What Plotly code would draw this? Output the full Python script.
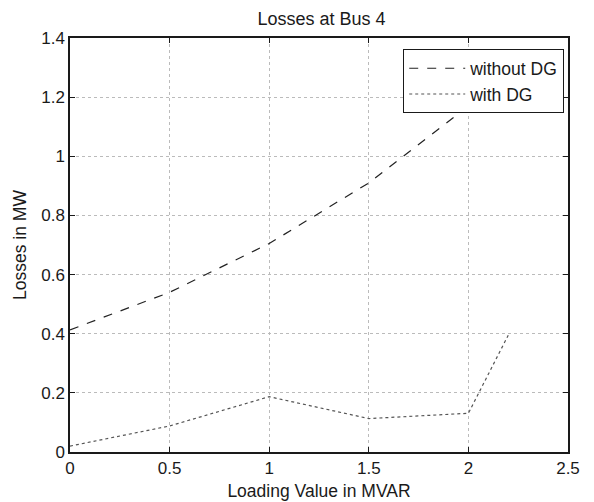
import plotly.graph_objects as go

loading = [0, 0.5, 1, 1.5, 2, 2.2]
without_dg = [0.413, 0.54, 0.705, 0.91, 1.17, 1.30]
with_dg = [0.02, 0.088, 0.187, 0.113, 0.131, 0.395]

x_ticks = [0, 0.5, 1, 1.5, 2, 2.5]
x_labels = ["0", "0.5", "1", "1.5", "2", "2.5"]
y_ticks = [0, 0.2, 0.4, 0.6, 0.8, 1, 1.2, 1.4]
y_labels = ["0", "0.2", "0.4", "0.6", "0.8", "1", "1.2", "1.4"]

font = "Liberation Sans, Arial, sans-serif"
ink = "#1a1a1a"

fig = go.Figure()
fig.add_trace(go.Scatter(x=loading, y=without_dg, mode="lines", name="without DG",
                         line=dict(color="#222222", width=1.2, dash="dash")))
fig.add_trace(go.Scatter(x=loading, y=with_dg, mode="lines", name="with DG",
                         line=dict(color="#555555", width=1.2, dash="dot")))

axis_common = dict(showline=True, linecolor=ink, linewidth=1.5, mirror="ticks",
                   ticks="inside", ticklen=5, tickcolor=ink,
                   showgrid=True, gridcolor="#bbbbbb", griddash="dot", gridwidth=1,
                   zeroline=False, tickfont=dict(family=font, size=17, color=ink))

fig.update_xaxes(range=[0, 2.5], tickvals=x_ticks, ticktext=x_labels,
                 title=dict(text="Loading Value in MVAR", font=dict(family=font, size=17.5, color=ink), standoff=8),
                 **axis_common)
fig.update_yaxes(range=[0, 1.4], tickvals=y_ticks, ticktext=y_labels,
                 title=dict(text="Losses in MW", font=dict(family=font, size=17.5, color=ink), standoff=10),
                 **axis_common)

fig.update_layout(
    width=586, height=494,
    margin=dict(l=62, r=26, t=30, b=50, autoexpand=False),
    paper_bgcolor="white", plot_bgcolor="white",
    title=dict(text="Losses at Bus 4", x=0.535, xanchor="center", y=0.992, yanchor="top",
               font=dict(family=font, size=18, color=ink)),
    legend=dict(x=0.992, y=0.973, xanchor="right", yanchor="top",
                bgcolor="white", bordercolor=ink, borderwidth=1.2,
                font=dict(family=font, size=17.5, color=ink),
                itemwidth=56),
    showlegend=True,
)

fig.write_html("out.html")
